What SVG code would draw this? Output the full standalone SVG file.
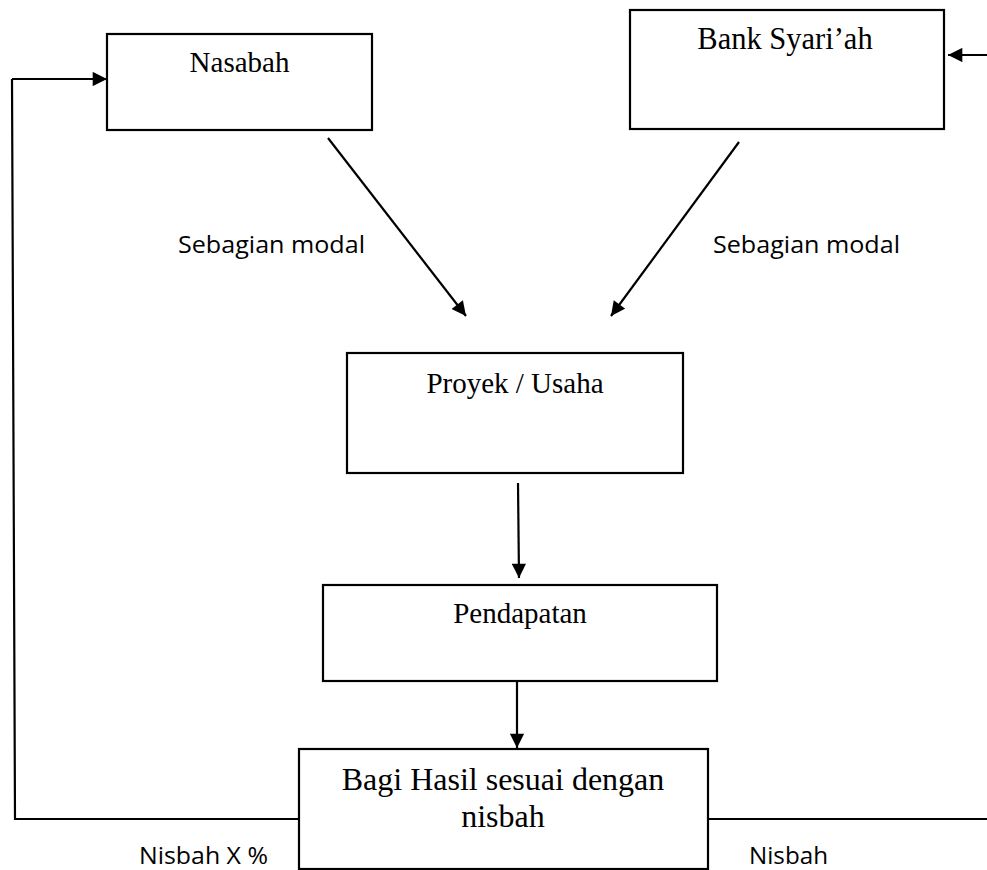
<svg xmlns="http://www.w3.org/2000/svg" width="987" height="870" viewBox="0 0 987 870">
<style>
.box{fill:#fff;stroke:#000;stroke-width:2.2}
.ln{fill:none;stroke:#000;stroke-width:2.2}
.t{font-family:"Liberation Serif","Times New Roman",serif;font-size:29px;fill:#000;text-anchor:middle}
.s{font-family:"Open Sans","Liberation Sans",sans-serif;font-size:24.5px;fill:#000}
</style>
<defs>
<marker id="ah" viewBox="0 0 10 10" refX="10" refY="5" markerWidth="7.5" markerHeight="6.5" markerUnits="strokeWidth" orient="auto">
<path d="M0,0 L10,5 L0,10 z" fill="#000"/>
</marker>
</defs>
<rect width="987" height="870" fill="#fff"/>
<g id="nasabah"><rect class="box" x="107" y="34" width="265" height="96"/><text class="t" x="239.5" y="72">Nasabah</text></g>
<g id="bank"><rect class="box" x="630" y="10" width="314" height="119"/><text class="t" x="785" y="49" style="font-size:30.5px">Bank Syari’ah</text></g>
<g id="proyek"><rect class="box" x="347" y="353" width="336" height="120"/><text class="t" x="515" y="393">Proyek / Usaha</text></g>
<g id="pendapatan"><rect class="box" x="323" y="585" width="394" height="96"/><text class="t" x="520" y="623">Pendapatan</text></g>
<g id="bagi"><rect class="box" x="299" y="749" width="409" height="120"/><text class="t" x="503" y="790" style="font-size:32px">Bagi Hasil sesuai dengan</text><text class="t" x="503" y="827" style="font-size:32px">nisbah</text></g>
<g id="connectors">
<line class="ln" x1="328" y1="138" x2="466" y2="316" marker-end="url(#ah)"/>
<line class="ln" x1="739" y1="142" x2="611" y2="316" marker-end="url(#ah)"/>
<line class="ln" x1="518" y1="483" x2="519" y2="578" marker-end="url(#ah)"/>
<line class="ln" x1="517" y1="681" x2="517" y2="748" marker-end="url(#ah)"/>
<polyline class="ln" points="299,819 15,819 12,79"/>
<line class="ln" x1="12" y1="79" x2="107" y2="79" marker-end="url(#ah)"/>
<line class="ln" x1="708" y1="819" x2="987" y2="819"/>
<line class="ln" x1="987" y1="55" x2="948" y2="55" marker-end="url(#ah)"/>
</g>
<g id="labels">
<text class="s" x="178" y="253" textLength="187" lengthAdjust="spacingAndGlyphs">Sebagian modal</text>
<text class="s" x="713" y="253" textLength="187" lengthAdjust="spacingAndGlyphs">Sebagian modal</text>
<text class="s" x="139" y="864" textLength="129" lengthAdjust="spacingAndGlyphs">Nisbah X %</text>
<text class="s" x="749" y="864" textLength="79" lengthAdjust="spacingAndGlyphs">Nisbah</text>
</g>
</svg>
